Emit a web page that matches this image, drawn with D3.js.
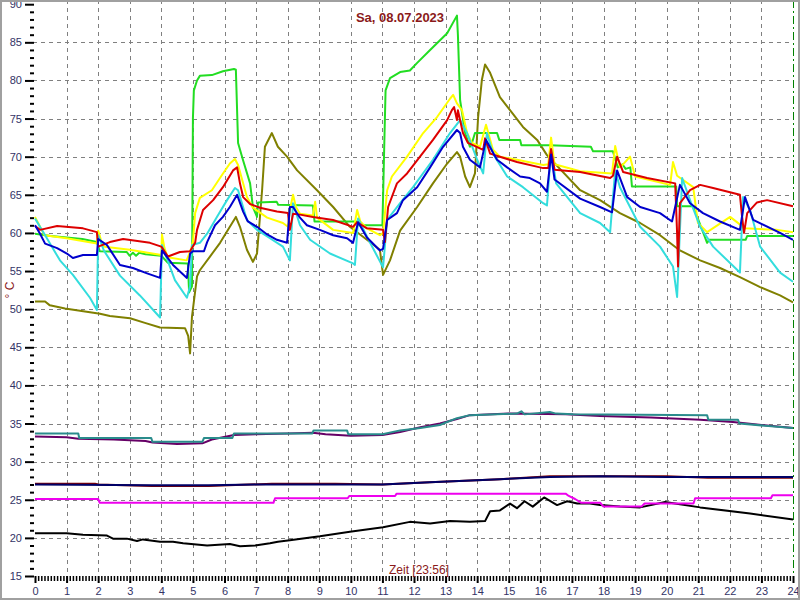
<!DOCTYPE html>
<html>
<head>
<meta charset="utf-8">
<script src="https://cdn.jsdelivr.net/npm/d3@7"></script>
<style>
  html, body { margin: 0; padding: 0; background: #fff; }
  svg { display: block; }
</style>
</head>
<body>
<svg id="chart" width="800" height="600"></svg>
<script>
// ---- Data ----
const titleText = "Sa, 08.07.2023";
const xLabel = "Zeit [23:56]";
const yLabel = "° C";
const xTicks = d3.range(0, 25);
const yTicks = [15, 20, 25, 30, 35, 40, 45, 50, 55, 60, 65, 70, 75, 80, 85, 90];

const serGreen = [[0,59.9],[0.5,59.6],[1.5,59.2],[1.96,58.8],[2.05,57.6],[2.9,57.5],[3.0,57.0],[3.1,57.4],[3.2,57.0],[3.3,57.4],[3.5,57.2],[4.0,57.0],[4.2,56.1],[4.84,56.0],[4.88,52.2],[4.97,53],[5.0,75],[5.03,78.7],[5.13,80.0],[5.22,80.6],[5.6,80.7],[5.95,81.2],[6.3,81.5],[6.36,81.4],[6.43,71.8],[6.59,69.5],[6.81,66.5],[6.9,63.4],[7.03,62.1],[7.06,64.0],[7.65,64.1],[7.7,63.7],[8.8,63.6],[8.85,61.5],[10.2,61.5],[10.25,61.0],[11.0,61.0],[11.05,70],[11.1,78.7],[11.24,80.3],[11.56,81.1],[11.87,81.3],[12.1,82.3],[12.51,84.0],[13.05,86.2],[13.36,88.5],[13.39,86],[13.46,77.4],[13.62,73.1],[13.77,71.3],[13.85,72],[13.93,73.1],[14.63,73.1],[14.7,72.2],[15.36,72.2],[15.4,71.5],[16.3,71.5],[17.6,71.3],[17.67,70.7],[18.3,70.7],[18.45,68.6],[18.6,69],[18.7,68.4],[18.85,68.6],[18.9,66.1],[20.3,66.1],[20.33,63.5],[20.84,63.5],[21.28,58.7],[21.35,59.1],[22.5,59.1],[22.55,59.6],[24,59.6]];
const serYellow = [[0,62.1],[0.3,59.7],[1.0,59.3],[1.96,58.6],[2.0,60.3],[2.1,58.9],[2.2,58.2],[3.0,57.8],[4.0,57.1],[4.02,59.8],[4.1,58.0],[4.2,56.8],[4.8,56.4],[4.91,57.5],[5.0,58.8],[5.07,62.6],[5.22,64.6],[5.6,65.6],[5.92,67.6],[6.17,69.1],[6.33,69.7],[6.43,68.9],[6.71,64.7],[6.9,63.3],[7.35,62.0],[7.85,61.3],[8.01,60.8],[8.07,63],[8.17,65.0],[8.26,63.4],[8.39,62.5],[8.8,62.3],[8.87,64.1],[8.93,62.0],[9.44,60.4],[10.07,60.0],[10.2,63.0],[10.3,61.5],[10.51,60.6],[10.92,59.7],[11.02,60.0],[11.15,65.6],[11.3,67.4],[11.78,70.0],[12.29,73.1],[12.73,75.2],[13.14,77.6],[13.24,78.1],[13.36,77.0],[13.52,76.1],[13.68,73.1],[13.84,71.8],[14.09,71.3],[14.28,74.2],[14.5,70.9],[14.72,70.0],[15.26,69.6],[16.09,68.9],[16.25,69],[16.34,72.5],[16.45,69],[17.26,68.1],[18.27,67.8],[18.37,71.4],[18.52,68.6],[18.62,69],[18.84,70.0],[19.0,67.4],[20.11,66.3],[20.2,69.3],[20.33,67.5],[20.84,66.0],[20.99,61.3],[21.28,60.1],[22.01,62.1],[22.48,60.6],[23.5,60.4],[24,60.1]];
const serRed = [[0,60.9],[0.16,60.4],[0.7,60.9],[1.52,60.6],[1.96,60.1],[2.0,58.2],[2.37,58.8],[2.79,59.2],[3.64,58.7],[4.0,58.2],[4.21,56.9],[4.59,57.5],[4.91,57.6],[5.07,58.7],[5.13,60.4],[5.32,63.0],[5.64,64.3],[5.95,66.0],[6.27,68.2],[6.4,68.6],[6.49,66.5],[6.59,64.7],[6.81,63.8],[7.12,63.3],[7.66,62.8],[8.01,62.6],[8.07,60.4],[8.17,62.5],[8.39,62.4],[8.8,62.1],[9.44,61.7],[10.07,60.8],[10.2,61.4],[10.51,60.6],[11.02,60.4],[11.08,58.8],[11.18,63.4],[11.46,66.5],[11.78,67.8],[12.19,70.0],[12.6,72.2],[13.05,74.8],[13.2,76.1],[13.27,76.5],[13.36,74.8],[13.39,76.1],[13.55,73.1],[13.71,71.8],[14.19,70.9],[14.25,72.4],[14.41,70.4],[14.72,70.0],[15.26,69.3],[16.09,68.5],[16.25,68.5],[16.34,71],[16.45,68.3],[17.26,68.0],[18.21,67.2],[18.3,67.5],[18.43,70.0],[18.62,68.0],[19.38,67.2],[20.27,66.5],[20.33,60],[20.36,55.6],[20.42,63.9],[20.74,65.6],[21.06,66.3],[21.47,65.9],[22.32,65.0],[22.39,62],[22.45,60.0],[22.55,62.6],[22.86,64.0],[23.18,64.3],[24,63.5]];
const serBlue = [[0,61.0],[0.16,59.9],[0.32,58.6],[0.7,58.0],[1.01,57.3],[1.2,56.7],[1.52,57.1],[1.96,57.1],[2.0,59.2],[2.28,58.4],[2.69,55.8],[3.1,55.4],[3.55,54.7],[3.96,54.1],[4.02,57.7],[4.37,55.8],[4.81,54.1],[4.91,57.3],[5.0,57.6],[5.35,57.6],[5.45,58.8],[5.7,61.0],[5.95,62.1],[6.17,63.4],[6.4,65.0],[6.59,62.8],[6.74,61.5],[7.03,60.8],[7.35,59.8],[7.66,59.1],[7.98,58.7],[8.07,63.4],[8.17,63.4],[8.39,62.0],[8.61,61.0],[9.02,60.4],[9.44,59.7],[9.88,59.3],[10.07,58.7],[10.23,61.4],[10.51,59.4],[10.92,57.7],[11.02,57.9],[11.15,61.7],[11.46,62.6],[11.65,64.3],[12.1,66.0],[12.51,68.6],[12.92,71.3],[13.36,73.5],[13.46,73.1],[13.55,71.3],[13.77,69.6],[14.09,68.6],[14.28,72.2],[14.63,69.6],[14.95,68.6],[15.36,67.4],[15.67,67.2],[15.99,66.5],[16.21,65.4],[16.34,70.3],[16.45,67],[17.26,64.5],[17.89,63.4],[18.27,62.7],[18.43,68.2],[18.75,64.7],[19.16,63.4],[19.79,62.6],[20.17,61.5],[20.42,66.3],[20.74,63.9],[21.15,62.6],[21.69,61.5],[22.32,60.4],[22.48,64.7],[22.74,61.7],[23.59,60.0],[24,59.1]];
const serCyan = [[0,61.9],[0.32,59.7],[0.79,56.4],[1.2,54.5],[1.74,51.5],[1.96,49.9],[2.0,59.7],[2.18,57.7],[2.69,54.4],[3.32,51.8],[3.96,48.9],[4.02,58.4],[4.43,53.8],[4.81,51.5],[4.91,53],[4.97,58.4],[5.22,58.7],[5.45,59.9],[5.76,62.1],[6.08,64.3],[6.33,65.9],[6.43,65.6],[6.71,61.7],[7.03,60.4],[7.44,59.3],[7.85,58.2],[8.07,56.4],[8.17,63.9],[8.39,61.0],[8.71,59.1],[9.34,57.3],[10.07,56.0],[10.13,55.8],[10.23,61.9],[10.61,58.7],[11.02,55.5],[11.15,61.7],[11.56,63.9],[11.97,66.0],[12.6,69.6],[13.14,73.1],[13.46,74.8],[13.68,73.1],[14.0,69.6],[14.19,67.8],[14.31,73.1],[14.5,70.4],[14.95,67.4],[15.45,66.0],[16.09,63.9],[16.21,63.6],[16.34,70.9],[16.5,66.5],[17.26,62.6],[17.89,61.3],[18.21,60.1],[18.37,68.2],[18.52,66.0],[19.16,60.8],[19.79,58.2],[20.2,55.6],[20.33,51.6],[20.49,67.2],[20.74,64.3],[21.06,60.8],[21.47,58.2],[22.32,54.8],[22.42,64.7],[22.64,63.0],[22.96,58.2],[23.59,54.8],[24,53.6]];
const serOlive = [[0,51.0],[0.32,51.0],[0.47,50.5],[0.95,50.1],[1.74,49.6],[2.06,49.4],[2.37,49.1],[3.01,48.8],[3.48,48.2],[3.96,47.6],[4.75,47.5],[4.85,46.5],[4.91,44.2],[4.97,49.0],[5.13,54.3],[5.22,55.1],[5.54,56.9],[5.86,58.7],[6.17,60.8],[6.36,62.1],[6.49,60.8],[6.71,57.8],[6.9,56.2],[7.03,57.3],[7.19,65.6],[7.28,71.3],[7.5,73.1],[7.69,71.3],[7.98,70.0],[8.3,68.2],[8.93,65.6],[9.44,63.4],[9.97,60.8],[10.51,59.1],[10.92,57.8],[11.02,54.5],[11.24,56.4],[11.56,60.3],[12.1,63.4],[12.6,66.5],[13.05,69.1],[13.36,70.6],[13.46,70.0],[13.62,67.4],[13.77,66.0],[13.93,67.8],[14.03,75.2],[14.15,80.1],[14.25,82.1],[14.41,81.0],[14.72,77.8],[15.04,76.1],[15.45,73.9],[15.9,72.2],[16.21,70.2],[17.26,65.6],[17.89,64.3],[18.52,62.6],[19.16,61.3],[19.79,59.7],[20.42,57.7],[21.06,56.4],[21.69,55.4],[22.32,54.2],[22.96,52.9],[23.59,51.8],[24,50.9]];
const serTeal = [[0,33.7],[1.37,33.7],[1.4,33.1],[3.68,33.1],[3.72,32.6],[5.3,32.6],[5.35,33.1],[6.25,33.1],[6.3,33.7],[8.78,33.7],[8.82,34.1],[9.88,34.1],[9.92,33.6],[11.0,33.6],[11.56,34.1],[12.2,34.4],[12.82,34.8],[13.05,35.2],[13.36,35.7],[13.77,36.1],[15.26,36.3],[15.4,36.6],[15.5,36.2],[16.3,36.5],[16.5,36.3],[17.04,36.2],[21.28,36.1],[21.32,35.5],[22.26,35.5],[22.3,35.0],[24,34.4]];
const serPurple = [[0,33.3],[1.0,33.2],[1.37,33.0],[2.5,32.9],[3.5,32.7],[3.72,32.5],[4.5,32.3],[5.3,32.4],[5.6,32.9],[6.3,33.5],[7.0,33.6],[8.0,33.7],[8.8,33.8],[9.2,33.6],[10.0,33.4],[11.0,33.5],[11.56,33.9],[12.2,34.5],[12.82,35.0],[13.36,35.6],[13.77,36.1],[15,36.3],[16.8,36.2],[17.89,36.0],[19.5,35.8],[21.06,35.5],[22.1,35.2],[24,34.4]];
const serNavy = [[0,27.0],[3.7,26.9],[5.5,26.9],[7,27.0],[11,27.0],[12.5,27.3],[14.72,27.7],[16.3,28.0],[17.9,28.1],[20,28.0],[24,28.0]];
const serMaroon = [[0,27.1],[1.9,27.1],[2.0,27.0],[3.7,26.8],[5.5,26.8],[7.5,27.1],[9.5,27.1],[11,27.0],[12.5,27.3],[14.72,27.7],[16.3,28.1],[20,28.1],[21.3,27.9],[24,27.9]];
const serMagenta = [[0,25.1],[2.0,25.1],[2.05,24.6],[7.55,24.6],[7.6,25.2],[9.9,25.2],[9.95,25.5],[11.4,25.5],[11.45,25.8],[16.8,25.8],[16.9,25.5],[17.1,25.1],[17.3,24.6],[17.9,24.6],[18.0,24.1],[19.2,24.1],[19.3,24.5],[20.85,24.5],[20.9,25.2],[23.3,25.2],[23.35,25.6],[24,25.6]];
const serBlack = [[0,20.6],[1.0,20.6],[1.52,20.4],[2.28,20.3],[2.47,19.9],[2.91,19.9],[3.23,19.6],[3.42,19.8],[3.96,19.5],[4.37,19.5],[4.69,19.3],[5.45,19.0],[6.17,19.2],[6.49,18.9],[6.97,19.0],[7.44,19.3],[7.69,19.5],[8.07,19.7],[9.02,20.2],[9.97,20.8],[11.02,21.4],[11.87,22.1],[12.51,21.9],[13.14,22.2],[13.77,22.1],[14.25,22.2],[14.41,23.5],[14.72,23.6],[15.04,24.5],[15.26,23.9],[15.5,24.8],[15.76,24.1],[16.12,25.3],[16.53,24.3],[16.85,24.8],[17.17,24.5],[17.57,24.5],[17.89,24.3],[18.52,24.1],[19.16,24.0],[19.95,24.7],[20.42,24.4],[21.06,24.0],[22.64,23.2],[24,22.4]];

const seriesList = [
  { data: serBlack, color: "#000000" },
  { data: serMagenta, color: "#ee00ee" },
  { data: serMaroon, color: "#800000" },
  { data: serNavy, color: "#000066" },
  { data: serPurple, color: "#660066" },
  { data: serTeal, color: "#2a8c8c" },
  { data: serOlive, color: "#808000" },
  { data: serGreen, color: "#22dd22" },
  { data: serYellow, color: "#ffff00" },
  { data: serCyan, color: "#33dddd" },
  { data: serRed, color: "#dd0000" },
  { data: serBlue, color: "#0000cc" }
];

// ---- Chart ----
const svg = d3.select("#chart");
const W = 800, H = 600;
const x = d3.scaleLinear().domain([0, 24]).range([35, 793]);
const y = d3.scaleLinear().domain([15, 90]).range([576, 4.2]);

svg.append("rect").attr("x", 0).attr("y", 0).attr("width", W).attr("height", H).attr("fill", "#fff");

// grid
const grid = svg.append("g").attr("stroke", "#808080").attr("stroke-width", 1).attr("stroke-dasharray", "4,4");
grid.selectAll("line.v").data(xTicks.filter(d => d > 0 && d < 24)).enter().append("line")
  .attr("x1", d => Math.round(x(d)) + 0.5).attr("x2", d => Math.round(x(d)) + 0.5)
  .attr("y1", 0).attr("y2", y(15));
grid.selectAll("line.h").data(yTicks.filter(d => d > 15 && d < 90)).enter().append("line")
  .attr("x1", 33).attr("x2", x(24))
  .attr("y1", d => Math.round(y(d)) + 0.5).attr("y2", d => Math.round(y(d)) + 0.5);

// end marker line at 24
svg.append("line").attr("x1", Math.round(x(24)) + 0.5).attr("x2", Math.round(x(24)) + 0.5)
  .attr("y1", 0).attr("y2", y(15)).attr("stroke", "#008000").attr("stroke-width", 1)
  .attr("stroke-dasharray", "8,3,2,3");

// y axis (ticks on left, no domain line)
const yAxisMajor = d3.axisLeft(y).tickValues(yTicks).tickSize(9).tickPadding(3).tickFormat(d3.format("d"));
const gy = svg.append("g").attr("transform", "translate(34,0)").call(yAxisMajor);
gy.select(".domain").remove();
gy.selectAll(".tick line").attr("stroke", "#000").attr("stroke-width", 2);
gy.selectAll(".tick text").attr("fill", "#333366").attr("font-family", "Liberation Sans, Arial, sans-serif").attr("font-size", 11);
const yMinor = svg.append("g").attr("transform", "translate(34,0)")
  .call(d3.axisLeft(y).tickValues(d3.range(15, 91, 1).filter(d => d % 5 !== 0)).tickSize(4).tickFormat(""));
yMinor.select(".domain").remove();
yMinor.selectAll(".tick line").attr("stroke", "#000").attr("stroke-width", 2);

// x axis
const gx = svg.append("g").attr("transform", "translate(0,576)")
  .call(d3.axisBottom(x).tickValues(xTicks).tickSize(7).tickPadding(4).tickFormat(d3.format("d")));
gx.select(".domain").remove();
gx.selectAll(".tick line").attr("stroke", "#000").attr("stroke-width", 2);
gx.selectAll(".tick text").attr("fill", "#333366").attr("font-family", "Liberation Sans, Arial, sans-serif").attr("font-size", 11);
const gxm = svg.append("g").attr("transform", "translate(0,576)")
  .call(d3.axisBottom(x).tickValues(d3.range(0, 240).map(d => d / 10).filter((d, i) => i % 10 !== 0)).tickSize(5).tickFormat(""));
gxm.select(".domain").remove();
gxm.selectAll(".tick line").attr("stroke", "#000").attr("stroke-width", 1.5);

// lines
const line = d3.line().x(d => x(d[0])).y(d => y(d[1]));
svg.append("g").selectAll("path").data(seriesList).enter().append("path")
  .attr("d", d => line(d.data)).attr("fill", "none")
  .attr("stroke", d => d.color).attr("stroke-width", 2).attr("stroke-linejoin", "round");

// texts
svg.append("text").attr("x", 400).attr("y", 22).attr("text-anchor", "middle")
  .attr("font-family", "Liberation Sans, Arial, sans-serif").attr("font-weight", "bold").attr("font-size", 13)
  .attr("fill", "#8b1a1a").text(titleText);
svg.append("text").attr("x", 419).attr("y", 574).attr("text-anchor", "middle")
  .attr("font-family", "Liberation Sans, Arial, sans-serif").attr("font-size", 12)
  .attr("fill", "#8b1a1a").text(xLabel);
svg.append("text").attr("transform", "translate(14,290) rotate(-90)").attr("text-anchor", "middle")
  .attr("font-family", "Liberation Sans, Arial, sans-serif").attr("font-size", 12)
  .attr("fill", "#8b1a1a").text(yLabel);

// outer frame
svg.append("rect").attr("x", 1).attr("y", 1).attr("width", W - 2).attr("height", H - 2)
  .attr("fill", "none").attr("stroke", "#a0a0a0").attr("stroke-width", 2);
</script>
</body>
</html>
